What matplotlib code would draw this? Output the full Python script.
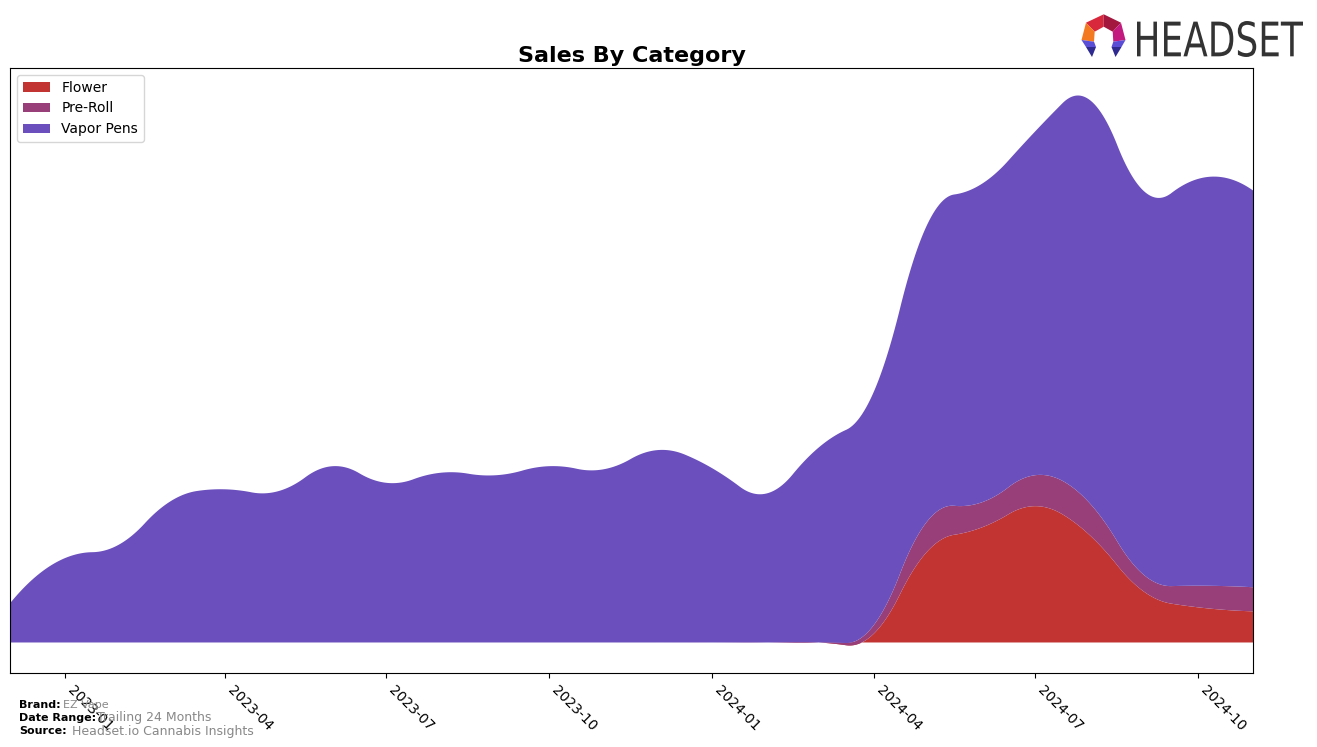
import numpy as np
import pandas as pd
import matplotlib
matplotlib.use("Agg")
import matplotlib.pyplot as plt
import matplotlib.dates as mdates
from matplotlib.patches import Polygon, PathPatch
from matplotlib.textpath import TextPath
from matplotlib.font_manager import FontProperties
from matplotlib.transforms import Affine2D

# ---------------- data ----------------
months = pd.date_range("2022-12-01", "2024-11-01", freq="MS")
categories = ["Flower", "Pre-Roll", "Vapor Pens"]
flower = [0, 0, 0, 0, 0, 0, 0, 0, 0, 0, 0, 0, 0, 0, 0, 0,
          8.5, 90, 114.5, 135.7, 106.7, 50, 35, 31]
pre_roll = [0, 0, 0, 0, 0, 0, 0, 0, 0, 0, 0, 0, 0, 0, 0, 0,
            8.5, 30, 25, 30.8, 31.8, 16.5, 21.5, 24]
vapor_pens = [39, 84, 98, 140, 152.5, 150.5, 175.5, 159, 169, 166.5, 175.5, 172.5,
              191.5, 173.5, 148.5, 194, 232, 295, 317, 342, 401.5, 382, 405, 395]
tick_labels = ["2023-01", "2023-04", "2023-07", "2023-10",
               "2024-01", "2024-04", "2024-07", "2024-10"]
colors = ["#C13432", "#983F79", "#6A4FBD"]


# ------------- quadratic interpolating spline (scipy-like k=2) -------------
def bspl_basis(t, k, xs):
    xs = np.asarray(xs, float)
    m = len(t) - 1
    B = np.zeros((len(xs), m))
    nz = [i for i in range(m) if t[i] < t[i + 1]]
    for i in nz:
        B[:, i] = ((xs >= t[i]) & (xs < t[i + 1])).astype(float)
    B[xs >= t[-1], nz[-1]] = 1.0
    for d in range(1, k + 1):
        Bn = np.zeros((len(xs), m - d))
        for i in range(m - d):
            den1 = t[i + d] - t[i]
            if den1 > 0:
                Bn[:, i] += (xs - t[i]) / den1 * B[:, i]
            den2 = t[i + d + 1] - t[i + 1]
            if den2 > 0:
                Bn[:, i] += (t[i + d + 1] - xs) / den2 * B[:, i + 1]
        B = Bn
    return B


def smooth(x, y, xs, k=2):
    x = np.asarray(x, float)
    mid = (x[1:] + x[:-1]) / 2.0
    t = np.r_[(x[0],) * (k + 1), mid[1:-1], (x[-1],) * (k + 1)]
    A = bspl_basis(t, k, x)
    c = np.linalg.solve(A, np.asarray(y, float))
    return bspl_basis(t, k, xs) @ c


xnum = mdates.date2num(months.to_pydatetime())
xs = np.linspace(xnum[0], xnum[-1], 1500)
series = [smooth(xnum, s, xs) for s in (flower, pre_roll, vapor_pens)]

# ---------------- figure ----------------
fig = plt.figure(figsize=(13.17, 7.47), dpi=100)
ax = fig.add_axes([10 / 1317, 1 - 673 / 747, 1243 / 1317, 605 / 747])

ax.stackplot(mdates.num2date(xs), *series, labels=categories, colors=colors)

ax.set_xlim(mdates.num2date(xnum[0]), mdates.num2date(xnum[-1]))
ax.set_yticks([])
tick_dates = pd.to_datetime(tick_labels)
ax.set_xticks(tick_dates.to_pydatetime())
ax.set_xticklabels(tick_labels, rotation=-45, ha="left", fontsize=10)

ax.set_title("Sales By Category", fontsize=16, fontweight="bold", pad=4)
ax.legend(loc="upper left", fontsize=10, frameon=True)

# footer
fig.text(19 / 1317, 1 - 705 / 747, "Brand:", fontsize=8, fontweight="bold", va="center")
fig.text(63 / 1317, 1 - 705 / 747, "EZ Vape", fontsize=8, color="#888888", va="center")
fig.text(19 / 1317, 1 - 718 / 747, "Date Range:", fontsize=8, fontweight="bold", va="center")
fig.text(97 / 1317, 1 - 718 / 747, "Trailing 24 Months", fontsize=9, color="#888888", va="center")
fig.text(19 / 1317, 1 - 731 / 747, "Source:", fontsize=8, fontweight="bold", va="center")
fig.text(72 / 1317, 1 - 731 / 747, "Headset.io Cannabis Insights", fontsize=9, color="#888888", va="center")

# ---------------- logo (figure pixel coordinates) ----------------
ov = fig.add_axes([0, 0, 1, 1], zorder=10)
ov.set_xlim(0, 1317)
ov.set_ylim(747, 0)
ov.axis("off")

logo_shapes = [
    ([(1086, 22.7), (1103.7, 14.3), (1103.7, 26.7), (1094.7, 31.7)], "#D7283C"),
    ([(1103.7, 14.3), (1121, 22.7), (1112.7, 31.7), (1103.7, 26.7)], "#A3173F"),
    ([(1121, 22.7), (1125.5, 40), (1113.3, 41.7), (1112.7, 31.7)], "#C21A7E"),
    ([(1086, 22.7), (1094.7, 31.7), (1094, 41.7), (1081.5, 40)], "#F47A22"),
    ([(1081.5, 40), (1094, 41.7), (1096, 47), (1086, 47)], "#5A4ED6"),
    ([(1086, 47), (1096, 47), (1092, 57)], "#2E2A8F"),
    ([(1125.5, 40), (1113.3, 41.7), (1111.5, 47), (1121.5, 47)], "#5A4ED6"),
    ([(1121.5, 47), (1111.5, 47), (1115.5, 57)], "#2E2A8F"),
]
for pts, col in logo_shapes:
    ov.add_patch(Polygon(pts, closed=True, facecolor=col, edgecolor="none"))

tp = TextPath((0, 0), "HEADSET", size=100, prop=FontProperties(family="DejaVu Sans"))
bb = tp.get_extents()
x0, x1, y0, y1 = 1137, 1303, 21, 57
sx = (x1 - x0) / bb.width
sy = (y1 - y0) / bb.height
tr = Affine2D().translate(-bb.x0, -bb.y0).scale(sx, -sy).translate(x0, y1)
ov.add_patch(PathPatch(tr.transform_path(tp), facecolor="#333333", edgecolor="none"))

fig.savefig("out.png", dpi=100)
